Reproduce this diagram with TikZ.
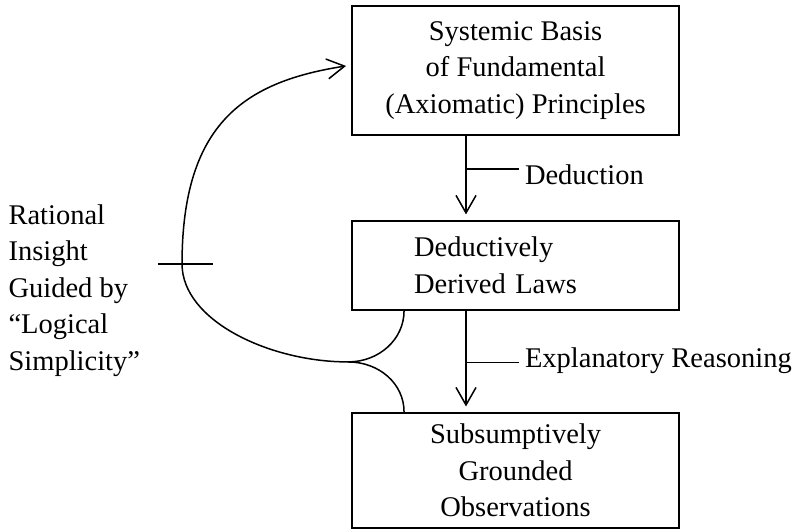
\documentclass[tikz,border=0pt]{standalone}
\usepackage{fontspec}
\setmainfont{Liberation Serif}
\usepackage{tikz}
\usetikzlibrary{arrows.meta,positioning}

\begin{document}
\begin{tikzpicture}[>={Straight Barb[length=7pt,width=8pt]}, line width=0.6pt,
  every node/.style={font=\fontsize{11.4}{14.6}\selectfont},
  stagebox/.style={draw, line width=0.8pt, minimum width=4.597cm, inner sep=0pt}]
\useasboundingbox (0,0) rectangle (11.19,7.45);
\node[stagebox, minimum height=1.814cm, align=center] (basis) at (7.248,6.46)
  {Systemic Basis\\of Fundamental\\(Axiomatic) Principles};
\node[stagebox, minimum height=1.251cm, text width=2.855cm, inner xsep=0.871cm, align=left] (laws) at (7.248,3.719)
  {Deductively\\Derived Laws};
\node[stagebox, minimum height=1.617cm, align=center] (obs) at (7.248,0.836)
  {Subsumptively\\Grounded\\Observations};
\node[anchor=north west, inner sep=0pt, align=left] (insight) at (0.11,4.583)
  {Rational\\Insight\\Guided by\\“Logical\\Simplicity”};
\coordinate (ded) at (6.551,5.075);
\coordinate (expl) at (6.551,2.355);
\coordinate (join) at (4.893,2.362);
\coordinate (bend) at (2.559,3.740);
\node[anchor=base west, inner sep=0pt] (deduction) at (7.37,4.85) {Deduction};
\node[anchor=base west, inner sep=0pt] (reasoning) at (7.37,2.278) {Explanatory Reasoning};
\draw[->, shorten >=2.2pt] (basis.south -| ded) -- (laws.north -| ded);
\draw[->, shorten >=2.2pt] (laws.south -| expl) -- (obs.north -| expl);
\draw[shorten >=2pt] (ded) -- (deduction.west |- ded);
\draw[shorten >=2pt] (expl) -- (reasoning.west |- expl);
\draw[->] (join) .. controls +(-1.1,0) and +(0,-0.8) .. (bend)
  .. controls +(0,2.0) and +(-1.4,-0.22) .. ([shift={(-0.071,0.063)}]basis.west);
\draw (join) .. controls +(0.435,0) and +(0,-0.4) .. ([xshift=-1.568cm]laws.south);
\draw (join) .. controls +(0.435,0) and +(0,0.4) .. ([xshift=-1.568cm]obs.north);
\draw ([xshift=-0.338cm]bend) -- ([xshift=0.436cm]bend);
\end{tikzpicture}
\end{document}
